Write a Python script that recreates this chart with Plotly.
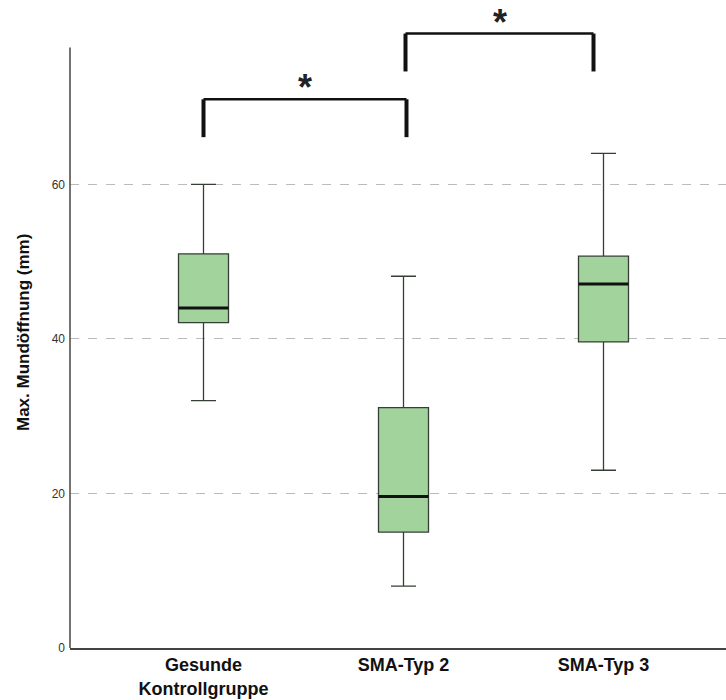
import plotly.graph_objects as go

# Group labels and five-number summaries of the maximum mouth opening (mm)
groups = ["Gesunde<br>Kontrollgruppe", "SMA-Typ 2", "SMA-Typ 3"]
positions = [0, 1, 2]
lower_whisker = [32.0, 8.0, 23.0]
q1 = [42.1, 15.0, 39.6]
median = [44.0, 19.6, 47.1]
q3 = [51.0, 31.1, 50.7]
upper_whisker = [60.0, 48.1, 64.0]

y_ticks = [0, 20, 40, 60]

# Significance brackets: (left end, right end, bar level, leg bottom)
brackets = [
    (0.0, 1.015, 71.0, 66.1),
    (1.01, 1.95, 79.5, 74.6),
]
sig_label = "*"

FONT = "Liberation Sans, Arial, sans-serif"
BOX_W = 0.25

fig = go.Figure()

fig.add_trace(go.Box(
    x=positions,
    q1=q1, median=median, q3=q3,
    lowerfence=lower_whisker, upperfence=upper_whisker,
    width=BOX_W, whiskerwidth=0.5,
    fillcolor="#a3d39c",
    line=dict(color="#353f35", width=1.3),
    boxpoints=False, hoverinfo="skip", showlegend=False,
))

# thicker median lines drawn over each box
for p, m in zip(positions, median):
    fig.add_trace(go.Scatter(
        x=[p - BOX_W / 2, p + BOX_W / 2], y=[m, m],
        mode="lines", line=dict(color="#111111", width=3),
        hoverinfo="skip", showlegend=False,
    ))

shapes = []
# left axis line stops short of the bracket area
shapes.append(dict(type="line", xref="paper", yref="y", x0=0, x1=0, y0=0, y1=77.7,
                   line=dict(color="#444444", width=1.5)))
annotations = []
for x0, x1, top, bottom in brackets:
    shapes.append(dict(type="line", xref="x", yref="y", x0=x0, x1=x1, y0=top, y1=top,
                       line=dict(color="#111111", width=2.5)))
    for xv in (x0, x1):
        shapes.append(dict(type="line", xref="x", yref="y", x0=xv, x1=xv, y0=top, y1=bottom,
                           line=dict(color="#111111", width=4)))
    annotations.append(dict(x=(x0 + x1) / 2, y=top + 1.5, xref="x", yref="y",
                            text=f"<b>{sig_label}</b>", showarrow=False, yanchor="middle",
                            font=dict(family=FONT, size=36, color="#222222")))

annotations.append(dict(
    text="<b>Max. Mundöffnung (mm)</b>", xref="paper", yref="paper",
    x=-0.070, y=0.49, xanchor="center", yanchor="middle", textangle=-90,
    showarrow=False, font=dict(family=FONT, size=17, color="#111111"),
))

fig.update_layout(
    width=726, height=700,
    margin=dict(l=70, r=0, t=5, b=52),
    paper_bgcolor="white", plot_bgcolor="white",
    shapes=shapes, annotations=annotations,
    xaxis=dict(
        range=[-0.6675, 2.6125],
        tickvals=positions, ticktext=[f"<b>{g}</b>" for g in groups],
        tickfont=dict(family=FONT, size=18, color="#111111"),
        showline=True, linecolor="#444444", linewidth=1.5,
        showgrid=False, zeroline=False, ticks="",
    ),
    yaxis=dict(
        range=[0, 83.2],
        tickvals=y_ticks,
        tickfont=dict(family=FONT, size=12, color="#333333"),
        showgrid=True, gridcolor="#bbbbbb", griddash="dash", gridwidth=1,
        zeroline=False, showline=False, ticks="", ticklabelstandoff=4,
    ),
)

fig.write_html("out.html")
